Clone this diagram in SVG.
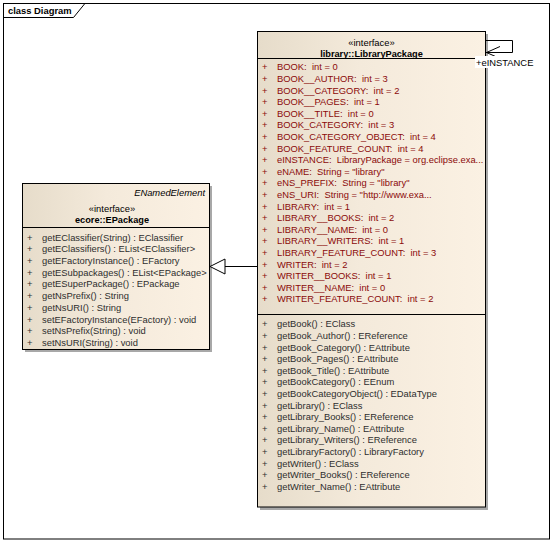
<svg xmlns="http://www.w3.org/2000/svg" width="553" height="543" viewBox="0 0 553 543">
<defs>
<linearGradient id="fill" x1="0" y1="0" x2="1" y2="0">
<stop offset="0" stop-color="#E6DCCA"/>
<stop offset="0.45" stop-color="#F4EADB"/>
<stop offset="1" stop-color="#FBF1E3"/>
</linearGradient>
</defs>
<style>
text{font-family:"Liberation Sans",Arial,sans-serif;font-size:9.4px}
.box{fill:url(#fill);stroke:#000;stroke-width:1}
.shadow{fill:#A8A8A8}
.sep{stroke:#000;stroke-width:1}
.attr{fill:#8B0A0A}
.attr text{white-space:pre}
.op{fill:#2E2E2E}
.ttl{font-weight:bold;fill:#000}
.st{fill:#000}
.c{text-anchor:middle}
.ln{stroke:#000;stroke-width:1;fill:none}
</style>
<rect x="0" y="0" width="553" height="543" fill="#fff"/>
<g id="frame">
<rect x="3.5" y="3.5" width="546" height="535.5" fill="none" stroke="#000" stroke-width="1"/>
<path d="M3.5,17.5 H73.5 L84.5,4 V3.5" fill="none" stroke="#000" stroke-width="1"/>
<text x="8" y="14" class="ttl">class Diagram</text>
</g>
<g id="LibraryPackage">
<rect x="260" y="34" width="228" height="476" class="shadow"/>
<rect x="257.5" y="31.5" width="228" height="475.5" class="box"/>
<line x1="257.5" y1="58.5" x2="485.5" y2="58.5" class="sep"/>
<line x1="257.5" y1="314.5" x2="485.5" y2="314.5" class="sep"/>
<text x="371.5" y="45.5" class="st c">«interface»</text>
<text x="371.5" y="56.5" class="ttl c" style="font-size:9.2px">library::LibraryPackage</text>
<g class="attr">
<text x="262" y="70.3">+</text><text x="277" y="70.3">BOOK:  int = 0</text>
<text x="262" y="81.9">+</text><text x="277" y="81.9">BOOK__AUTHOR:  int = 3</text>
<text x="262" y="93.5">+</text><text x="277" y="93.5">BOOK__CATEGORY:  int = 2</text>
<text x="262" y="105.1">+</text><text x="277" y="105.1">BOOK__PAGES:  int = 1</text>
<text x="262" y="116.7">+</text><text x="277" y="116.7">BOOK__TITLE:  int = 0</text>
<text x="262" y="128.3">+</text><text x="277" y="128.3">BOOK_CATEGORY:  int = 3</text>
<text x="262" y="139.9">+</text><text x="277" y="139.9">BOOK_CATEGORY_OBJECT:  int = 4</text>
<text x="262" y="151.5">+</text><text x="277" y="151.5">BOOK_FEATURE_COUNT:  int = 4</text>
<text x="262" y="163.1">+</text><text x="277" y="163.1">eINSTANCE:  LibraryPackage = org.eclipse.exa...</text>
<text x="262" y="174.7">+</text><text x="277" y="174.7">eNAME:  String = "library"</text>
<text x="262" y="186.3">+</text><text x="277" y="186.3">eNS_PREFIX:  String = "library"</text>
<text x="262" y="197.9">+</text><text x="277" y="197.9">eNS_URI:  String = "http://www.exa...</text>
<text x="262" y="209.5">+</text><text x="277" y="209.5">LIBRARY:  int = 1</text>
<text x="262" y="221.1">+</text><text x="277" y="221.1">LIBRARY__BOOKS:  int = 2</text>
<text x="262" y="232.7">+</text><text x="277" y="232.7">LIBRARY__NAME:  int = 0</text>
<text x="262" y="244.3">+</text><text x="277" y="244.3">LIBRARY__WRITERS:  int = 1</text>
<text x="262" y="255.9">+</text><text x="277" y="255.9">LIBRARY_FEATURE_COUNT:  int = 3</text>
<text x="262" y="267.5">+</text><text x="277" y="267.5">WRITER:  int = 2</text>
<text x="262" y="279.1">+</text><text x="277" y="279.1">WRITER__BOOKS:  int = 1</text>
<text x="262" y="290.7">+</text><text x="277" y="290.7">WRITER__NAME:  int = 0</text>
<text x="262" y="302.3">+</text><text x="277" y="302.3">WRITER_FEATURE_COUNT:  int = 2</text>
</g>
<g class="op">
<text x="262" y="327.3">+</text><text x="277" y="327.3">getBook() : EClass</text>
<text x="262" y="338.9">+</text><text x="277" y="338.9">getBook_Author() : EReference</text>
<text x="262" y="350.5">+</text><text x="277" y="350.5">getBook_Category() : EAttribute</text>
<text x="262" y="362.1">+</text><text x="277" y="362.1">getBook_Pages() : EAttribute</text>
<text x="262" y="373.7">+</text><text x="277" y="373.7">getBook_Title() : EAttribute</text>
<text x="262" y="385.3">+</text><text x="277" y="385.3">getBookCategory() : EEnum</text>
<text x="262" y="396.9">+</text><text x="277" y="396.9">getBookCategoryObject() : EDataType</text>
<text x="262" y="408.5">+</text><text x="277" y="408.5">getLibrary() : EClass</text>
<text x="262" y="420.1">+</text><text x="277" y="420.1">getLibrary_Books() : EReference</text>
<text x="262" y="431.7">+</text><text x="277" y="431.7">getLibrary_Name() : EAttribute</text>
<text x="262" y="443.3">+</text><text x="277" y="443.3">getLibrary_Writers() : EReference</text>
<text x="262" y="454.9">+</text><text x="277" y="454.9">getLibraryFactory() : LibraryFactory</text>
<text x="262" y="466.5">+</text><text x="277" y="466.5">getWriter() : EClass</text>
<text x="262" y="478.1">+</text><text x="277" y="478.1">getWriter_Books() : EReference</text>
<text x="262" y="489.7">+</text><text x="277" y="489.7">getWriter_Name() : EAttribute</text>
</g>
</g>
<g id="EPackage">
<rect x="25" y="186" width="187" height="166" class="shadow"/>
<rect x="22.5" y="183.5" width="187" height="166" class="box"/>
<line x1="22.5" y1="227.5" x2="209.5" y2="227.5" class="sep"/>
<text x="205" y="195.5" class="st" style="font-style:italic;text-anchor:end">ENamedElement</text>
<text x="112" y="212" class="st c">«interface»</text>
<text x="112" y="222.6" class="ttl c" style="font-size:9.2px">ecore::EPackage</text>
<g class="op">
<text x="27" y="240.6">+</text><text x="42" y="240.6">getEClassifier(String) : EClassifier</text>
<text x="27" y="252.3">+</text><text x="42" y="252.3">getEClassifiers() : EList&lt;EClassifier&gt;</text>
<text x="27" y="264">+</text><text x="42" y="264">getEFactoryInstance() : EFactory</text>
<text x="27" y="275.7">+</text><text x="42" y="275.7">getESubpackages() : EList&lt;EPackage&gt;</text>
<text x="27" y="287.4">+</text><text x="42" y="287.4">getESuperPackage() : EPackage</text>
<text x="27" y="299.1">+</text><text x="42" y="299.1">getNsPrefix() : String</text>
<text x="27" y="310.8">+</text><text x="42" y="310.8">getNsURI() : String</text>
<text x="27" y="322.5">+</text><text x="42" y="322.5">setEFactoryInstance(EFactory) : void</text>
<text x="27" y="334.2">+</text><text x="42" y="334.2">setNsPrefix(String) : void</text>
<text x="27" y="345.9">+</text><text x="42" y="345.9">setNsURI(String) : void</text>
</g>
</g>
<g id="connectors">
<line x1="257" y1="266.5" x2="225" y2="266.5" class="ln"/>
<polygon points="210,266.5 225,259 225,274" fill="#fff" stroke="#000" stroke-width="1"/>
<path d="M485.5,40.5 H512.5 V52.5 H486" class="ln"/>
<path d="M500,46.5 L486.5,52.5 L500,58.5" class="ln"/>
<rect x="475" y="56" width="58" height="12" fill="#fff"/>
<text x="476" y="66" class="st">+eINSTANCE</text>
</g>
</svg>
